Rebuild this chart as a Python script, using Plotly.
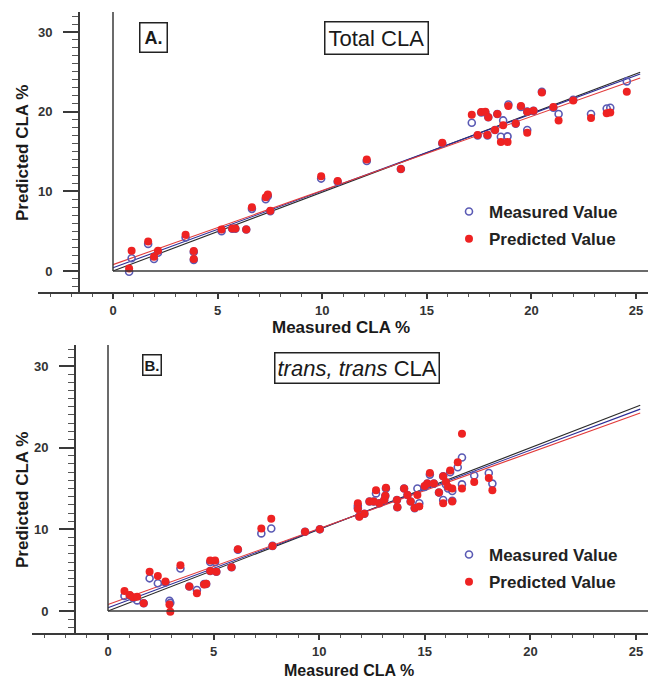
import numpy as np
import plotly.graph_objects as go

# ---------------- Panel A: Total CLA ----------------
a_x = [0.77, 0.89, 1.68, 1.96, 2.15, 3.47, 3.86, 3.86, 5.19, 5.70, 5.85, 6.37, 6.64, 7.30, 7.40,
       7.52, 9.95, 10.74, 12.13, 13.76, 15.74, 17.15, 17.43, 17.60, 17.80, 17.90, 17.94, 18.26,
       18.37, 18.54, 18.65, 18.86, 18.90, 19.25, 19.50, 19.80, 19.80, 20.10, 20.50, 21.05, 21.30,
       22.00, 22.85, 23.60, 23.77, 24.56]
a_meas = [-0.1, 1.6, 3.4, 1.5, 2.3, 4.2, 1.4, 2.4, 5.0, 5.3, 5.3, 5.2, 7.8, 9.0, 9.4,
          7.5, 11.6, 11.2, 13.8, 12.8, 16.0, 18.6, 17.0, 19.9, 19.9, 17.0, 19.3, 17.7,
          19.7, 16.85, 18.9, 16.9, 20.9, 18.5, 20.6, 17.7, 20.0, 20.1, 22.5, 20.5, 19.7,
          21.5, 19.7, 20.4, 20.5, 23.8]
a_pred = [0.3, 2.55, 3.7, 1.8, 2.55, 4.55, 1.5, 2.5, 5.2, 5.35, 5.35, 5.2, 8.0, 9.25, 9.6,
          7.57, 11.9, 11.3, 14.0, 12.8, 16.1, 19.6, 17.06, 19.95, 20.0, 17.06, 19.3, 17.7,
          19.7, 16.2, 18.3, 16.2, 20.7, 18.5, 20.7, 17.35, 20.0, 20.1, 22.4, 20.6, 18.9,
          21.4, 19.2, 19.8, 19.9, 22.5]

# ---------------- Panel B: trans,trans CLA ----------------
b_x = [0.78, 1.03, 1.19, 1.38, 1.69, 1.97, 2.36, 2.72, 2.91, 2.95, 3.43, 3.85, 4.21, 4.55, 4.65,
       4.84, 5.07, 4.84, 5.13, 5.85, 6.15, 7.26, 7.73, 7.79, 9.33, 10.03, 11.83, 11.83, 11.90,
       12.14, 12.38, 12.58, 12.69, 12.85, 13.08, 13.13, 13.16, 13.68, 13.70, 14.02, 14.18, 14.33,
       14.52, 14.65, 14.74, 14.99, 15.12, 15.24, 15.43, 15.67, 15.87, 15.87, 16.00, 16.10, 16.20,
       16.30, 16.30, 16.56, 16.76, 16.76, 17.34, 18.03, 18.20]
b_meas = [1.84, 1.9, 1.6, 1.3, 0.94, 4.0, 3.4, 3.5, 1.26, 1.0, 5.2, 3.0, 2.57, 3.3, 3.3,
          6.0, 6.0, 4.9, 4.8, 5.35, 7.5, 9.5, 10.1, 7.97, 9.7, 10.0, 12.9, 12.6, 11.6,
          11.9, 13.4, 13.4, 14.4, 13.2, 13.6, 14.1, 15.0, 13.6, 12.7, 15.0, 14.2, 13.4,
          12.6, 15.0, 13.2, 15.2, 15.6, 16.7, 15.6, 14.5, 16.5, 13.6, 15.5, 15.0, 17.0,
          14.7, 13.5, 17.6, 18.8, 15.5, 16.6, 16.9, 15.6]
b_pred = [2.45, 1.96, 1.68, 1.75, 0.94, 4.8, 4.29, 3.6, 0.8, -0.1, 5.6, 3.0, 2.17, 3.25, 3.35,
          6.17, 6.17, 4.9, 4.8, 5.35, 7.56, 10.1, 11.3, 7.97, 9.7, 10.0, 13.2, 12.5, 11.55,
          11.9, 13.4, 13.4, 14.8, 13.2, 13.6, 14.1, 15.1, 13.6, 12.7, 15.0, 14.2, 13.4,
          12.6, 14.2, 12.8, 15.3, 15.6, 16.9, 15.6, 14.5, 16.5, 13.2, 15.8, 15.2, 17.2,
          15.0, 13.4, 18.2, 21.7, 15.0, 15.8, 16.3, 14.8]

# regression / reference lines: (intercept, slope) for ideal, measured fit, predicted fit
fit_x = [0.0, 25.2]
line_names = ["ideal", "measured fit", "predicted fit"]
a_intercepts = [0.0, 0.4, 0.8]
a_slopes = [0.99, 0.965, 0.93]
b_intercepts = [0.0, 0.4, 0.8]
b_slopes = [1.0, 0.965, 0.93]
line_colors = ["#2a2a2a", "#2c2c96", "#e23a3a"]

y_ticks = [0, 10, 20, 30]
x_ticks = [0, 5, 10, 15, 20, 25]

BLUE = "#5a5ab4"
RED = "#ee2222"
AXC = "#3a3a3a"
FONT = "Liberation Sans, Arial, sans-serif"

W, H = 648, 682

fig = go.Figure()

def add_panel(xs, meas, pred, intercepts, slopes, xa, ya, legend):
    fx = np.array(fit_x)
    for c, s, col in zip(intercepts, slopes, line_colors):
        fig.add_trace(go.Scatter(x=fx, y=c + s * fx, mode="lines",
                                 line=dict(color=col, width=1.1),
                                 showlegend=False, hoverinfo="skip",
                                 xaxis=xa, yaxis=ya))
    fig.add_trace(go.Scatter(x=xs, y=meas, mode="markers", name="Measured Value",
                             marker=dict(symbol="circle-open", size=7, color=BLUE,
                                         line=dict(width=1.6, color=BLUE)),
                             legend=legend, legendgroup=legend + "m",
                             xaxis=xa, yaxis=ya))
    fig.add_trace(go.Scatter(x=xs, y=pred, mode="markers", name="Predicted Value",
                             marker=dict(symbol="circle", size=8, color=RED),
                             legend=legend, legendgroup=legend + "p",
                             xaxis=xa, yaxis=ya))

add_panel(a_x, a_meas, a_pred, a_intercepts, a_slopes, "x", "y", "legend")
add_panel(b_x, b_meas, b_pred, b_intercepts, b_slopes, "x2", "y2", "legend2")

def px_x(p):
    return p / W

def px_y(p):
    return (H - p) / H

tickfont = dict(family=FONT, size=13, color="#333333", weight="bold")

def xaxis_cfg(dom_left, rng, anchor):
    return dict(domain=[px_x(dom_left), 1.0], range=rng, anchor=anchor,
                showline=True, linecolor=AXC, linewidth=2, showgrid=False, zeroline=False,
                tickmode="array", tickvals=x_ticks, ticks="outside", ticklen=5,
                tickwidth=1.5, tickcolor=AXC, tickfont=tickfont,
                minor=dict(dtick=1, tick0=0, ticks="outside", ticklen=3, tickwidth=1.2,
                           tickcolor="#555555", showgrid=False))

def yaxis_cfg(top, bottom, rng, pos):
    return dict(domain=[px_y(bottom), px_y(top)], range=rng, anchor="free",
                position=px_x(pos),
                showline=True, linecolor=AXC, linewidth=2, showgrid=False, zeroline=False,
                tickmode="array", tickvals=y_ticks, ticks="outside", ticklen=15,
                tickwidth=1.5, tickcolor=AXC, tickfont=tickfont, ticklabelstandoff=8,
                minor=dict(dtick=1, tick0=0, ticks="outside", ticklen=6, tickwidth=1.2,
                           tickcolor="#555555", showgrid=False))

# Panel A geometry (pixels): x=0 at 113, 25 at 636; y=0 at 271, 30 at 32
xa_rng = [(38 - 113) / 20.92, (648 - 113) / 20.92]
ya_rng = [-(292 - 271) / 7.967, (271 - 12) / 7.967]
# Panel B geometry: x=0 at 108, 25 at 636; y=0 at 611, 30 at 366
xb_rng = [(32 - 108) / 21.12, (648 - 108) / 21.12]
yb_rng = [-(633 - 611) / 8.167, (611 - 345) / 8.167]

legfont = dict(family=FONT, size=17, color="#222222", weight="bold")

fig.update_layout(
    width=W, height=H,
    margin=dict(l=0, r=0, t=0, b=0),
    paper_bgcolor="white", plot_bgcolor="white",
    font=dict(family=FONT, color="#222222"),
    xaxis=xaxis_cfg(38, xa_rng, "y"),
    yaxis=yaxis_cfg(12, 292, ya_rng, 79),
    xaxis2=xaxis_cfg(32, xb_rng, "y2"),
    yaxis2=yaxis_cfg(345, 633, yb_rng, 75),
    legend=dict(x=px_x(449), y=px_y(194), xanchor="left", yanchor="top",
                font=legfont, bgcolor="rgba(0,0,0,0)", tracegroupgap=2,
                itemsizing="trace"),
    legend2=dict(x=px_x(449), y=px_y(537), xanchor="left", yanchor="top",
                 font=legfont, bgcolor="rgba(0,0,0,0)", tracegroupgap=2,
                 itemsizing="trace"),
    showlegend=True,
)

# inner reference lines at x=0 and y=0
for xr, yr, xr_rng, yr_rng in (("x", "y", xa_rng, ya_rng), ("x2", "y2", xb_rng, yb_rng)):
    fig.add_shape(type="line", xref=xr, yref=yr, x0=0, x1=0, y0=0, y1=yr_rng[1],
                  line=dict(color=AXC, width=1.5))
    fig.add_shape(type="line", xref=xr, yref=yr, x0=0, x1=xr_rng[1], y0=0, y1=0,
                  line=dict(color=AXC, width=1.5))

def ann(text, x, y, size, bold=False, box=False, pad=2, angle=0):
    fig.add_annotation(text=text, xref="paper", yref="paper", x=px_x(x), y=px_y(y),
                       xanchor="center", yanchor="middle", showarrow=False, textangle=angle,
                       font=dict(family=FONT, size=size, color="#1a1a1a",
                                 weight="bold" if bold else "normal"),
                       bordercolor="#222222" if box else None,
                       borderwidth=1.5 if box else 0, borderpad=pad,
                       bgcolor="white" if box else None)

# axis titles
ann("Measured CLA %", 341, 327, 17, bold=True)
ann("Measured CLA %", 349, 670, 16, bold=True)
ann("Predicted CLA %", 22, 153, 17, bold=True, angle=-90)
ann("Predicted CLA %", 22, 500, 17, bold=True, angle=-90)

# panel labels
ann("A.", 153, 38, 18, bold=True, box=True, pad=4)
ann("Total CLA", 376, 38, 22, box=True, pad=3)
ann("B.", 152, 365, 15, bold=True, box=True, pad=1)
ann("<i>trans, trans</i> CLA", 357, 368, 22, box=True, pad=2)

fig.write_html("out.html",
               config={"displayModeBar": False},
               post_script="document.body.style.margin='0';document.body.style.overflow='hidden';")
